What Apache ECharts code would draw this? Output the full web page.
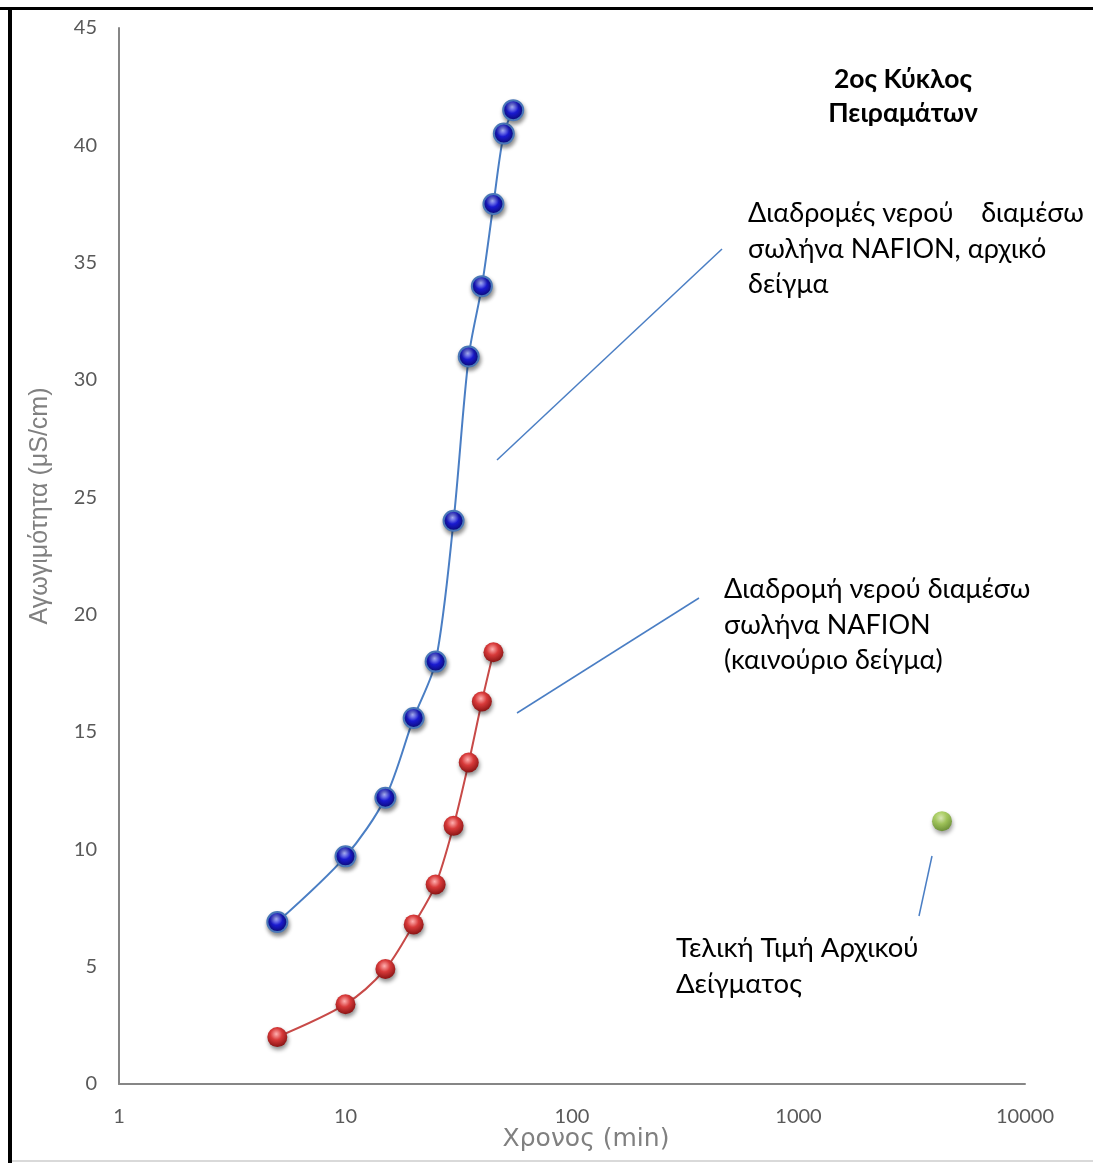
<!DOCTYPE html>
<html>
<head>
<meta charset="utf-8">
<script src="https://cdn.jsdelivr.net/npm/echarts@6/dist/echarts.min.js"></script>
<style>
html,body{margin:0;padding:0;background:#fff;}
#chart{width:1093px;height:1163px;}
</style>
</head>
<body>
<div id="chart"></div>
<script>
// Data
const blueTimes = [5, 10, 15, 20, 25, 30, 35, 40, 45, 50, 55];
const blueValues = [6.9, 9.7, 12.2, 15.6, 18.0, 24.0, 31.0, 34.0, 37.5, 40.5, 41.5];
const redTimes = [5, 10, 15, 20, 25, 30, 35, 40, 45];
const redValues = [2.0, 3.4, 4.9, 6.8, 8.5, 11.0, 13.7, 16.3, 18.4];
const greenTimes = [4300];
const greenValues = [11.2];
const xTickLabels = ['1', '10', '100', '1000', '10000'];
const yTickStep = 5;
const xAxisTitle = 'Χρονος (min)';
const yAxisTitle = 'Αγωγιμότητα (μS/cm)';
const titleText = '2ος Κύκλος\nΠειραμάτων';
const note1 = 'Διαδρομές νερού    διαμέσω\nσωλήνα NAFION, αρχικό\nδείγμα';
const note2 = 'Διαδρομή νερού διαμέσω\nσωλήνα NAFION\n(καινούριο δείγμα)';
const note3 = 'Τελική Τιμή Αρχικού\nΔείγματος';

function pairs(xs, ys) { return xs.map((x, i) => [x, ys[i]]); }
function sphere(c0, c1, c2) {
  return {
    type: 'radial', x: 0.45, y: 0.35, r: 0.65,
    colorStops: [{offset: 0, color: c0}, {offset: 0.45, color: c1}, {offset: 1, color: c2}]
  };
}
const shadow = {shadowBlur: 4, shadowColor: 'rgba(0,0,0,0.45)', shadowOffsetX: 1, shadowOffsetY: 3};

const chart = echarts.init(document.getElementById('chart'));
const textFont = 'Lato';
chart.setOption({
  animation: false,
  backgroundColor: '#fff',
  grid: {left: 119, right: 68, top: 28, bottom: 79},
  xAxis: {
    type: 'log', logBase: 10, min: 1, max: 10000,
    axisLine: {lineStyle: {color: '#868686', width: 2}},
    axisTick: {show: false},
    splitLine: {show: false},
    axisLabel: {color: '#595959', fontSize: 20, fontFamily: textFont, margin: 23,
      formatter: v => { const s = String(Math.round(v)); return xTickLabels.includes(s) ? s : ''; }}
  },
  yAxis: {
    type: 'value', min: 0, max: 45, interval: yTickStep,
    axisLine: {show: true, lineStyle: {color: '#868686', width: 2}},
    axisTick: {show: false},
    splitLine: {show: false},
    axisLabel: {color: '#595959', fontSize: 20, fontFamily: textFont, margin: 22, padding: [4, 0, 0, 0]}
  },
  series: [
    {
      type: 'line', data: pairs(blueTimes, blueValues), smooth: 0.3,
      symbol: 'circle', symbolSize: 20,
      lineStyle: {color: '#4a7ec4', width: 2},
      itemStyle: Object.assign({color: sphere('#b0b8ff', '#1a1ad0', '#0a0a70'), borderColor: '#4a78b8', borderWidth: 2}, shadow),
      z: 3
    },
    {
      type: 'line', data: pairs(redTimes, redValues), smooth: 0.3,
      symbol: 'circle', symbolSize: 20,
      lineStyle: {color: '#c84a48', width: 2},
      itemStyle: Object.assign({color: sphere('#ffb0b0', '#d83a3a', '#8a1414'), borderWidth: 0}, shadow),
      z: 3
    },
    {
      type: 'scatter', data: pairs(greenTimes, greenValues),
      symbol: 'circle', symbolSize: 20,
      itemStyle: Object.assign({color: sphere('#e4f5b8', '#9cc845', '#5e8a1c')}, shadow)
    }
  ],
  graphic: [
    {type: 'rect', shape: {x: 0, y: 7, width: 1093, height: 3}, style: {fill: '#000'}, silent: true},
    {type: 'rect', shape: {x: 8, y: 7, width: 4, height: 1156}, style: {fill: '#000'}, silent: true},
    {type: 'rect', shape: {x: 12, y: 1160, width: 1081, height: 2}, style: {fill: '#d9d9d9'}, silent: true},
    {type: 'text', x: 40, y: 506, rotation: Math.PI / 2,
      style: {text: yAxisTitle, fontFamily: 'Liberation Sans', fontSize: 25, fill: '#808080', textAlign: 'center', textVerticalAlign: 'middle'}},
    {type: 'text', x: 586, y: 1139,
      style: {text: xAxisTitle, fontFamily: 'DejaVu Sans', fontSize: 25, fill: '#808080', textAlign: 'center', textVerticalAlign: 'middle'}},
    {type: 'text', x: 903, y: 62, style: {text: titleText, fontFamily: textFont, fontWeight: 'bold', fontSize: 26.5, lineHeight: 34, textAlign: 'center', fill: '#000'}},
    {type: 'text', x: 748, y: 196, style: {text: note1, fontFamily: textFont, fontSize: 27, lineHeight: 35.5, fill: '#000'}},
    {type: 'text', x: 724, y: 572, style: {text: note2, fontFamily: textFont, fontSize: 27, lineHeight: 35.5, fill: '#000'}},
    {type: 'text', x: 676, y: 930, style: {text: note3, fontFamily: textFont, fontSize: 27.5, lineHeight: 36, fill: '#000'}},
    {type: 'line', shape: {x1: 722, y1: 249, x2: 497, y2: 460}, style: {stroke: '#4a7ec4', lineWidth: 1.5}},
    {type: 'line', shape: {x1: 699, y1: 598, x2: 517, y2: 713}, style: {stroke: '#4a7ec4', lineWidth: 1.5}},
    {type: 'line', shape: {x1: 932, y1: 856, x2: 919, y2: 916}, style: {stroke: '#4a7ec4', lineWidth: 1.5}}
  ]
});
</script>
</body>
</html>
